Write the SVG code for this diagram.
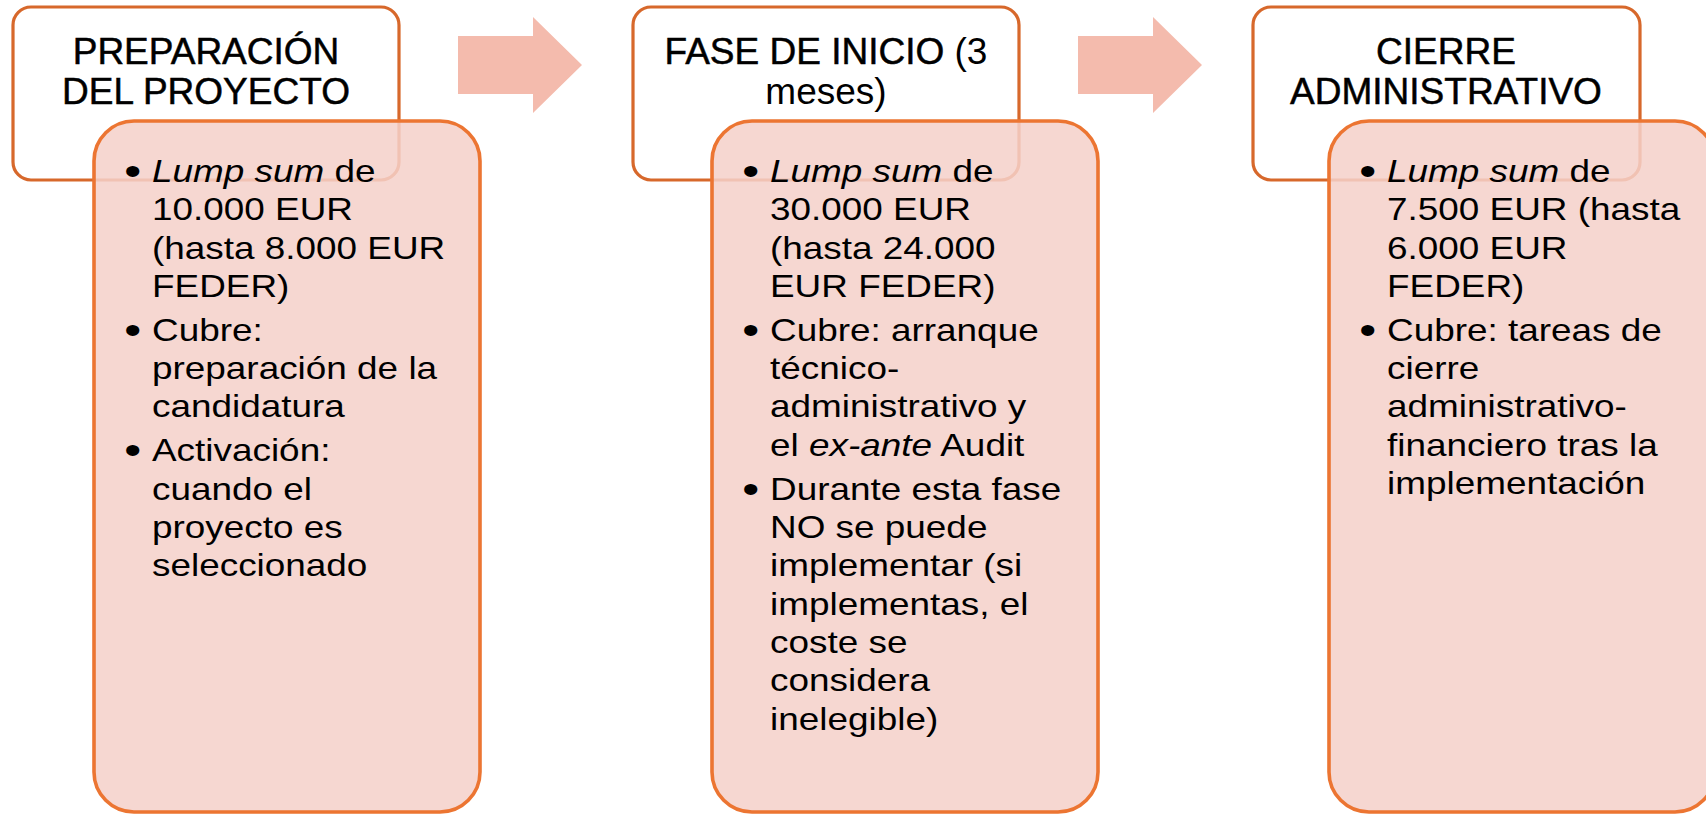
<svg xmlns="http://www.w3.org/2000/svg" width="1706" height="815" viewBox="0 0 1706 815">
<style>
.hdr{fill:#FFFFFF;stroke:#D7682B;stroke-width:3.2}
.card{fill:#F4D1C9;fill-opacity:0.86;stroke:#EC7532;stroke-width:3.6}
.arrow{fill:#F4BBAD}
.ht{font-family:"Liberation Sans",Arial,sans-serif;font-size:37px;fill:#000;text-anchor:middle}
.hb{stroke:#000;stroke-width:0.5}
.bt{font-family:"Liberation Sans",Arial,sans-serif;font-size:30.5px;fill:#000}
.bu{font-family:"Liberation Sans",Arial,sans-serif;font-size:40px;fill:#000}
.it{font-style:italic}
</style>
<rect width="1706" height="815" fill="#FFFFFF"/>
<g id="connectors">
<polygon class="arrow" points="458,36 533,36 533,17 582,65 533,113 533,94 458,94"/>
<polygon class="arrow" points="1078,36 1153,36 1153,17 1202,65 1153,113 1153,94 1078,94"/>
</g>
<g id="node-preparacion">
<rect class="hdr" x="13" y="7" width="386" height="173" rx="18"/>
<text class="ht hb"><tspan x="206" y="64">PREPARACIÓN</tspan><tspan x="206" y="103.5">DEL PROYECTO</tspan></text>
<rect class="card" x="94" y="121" width="386" height="691" rx="40"/>
<g transform="translate(152 0) scale(1.21 1)">
<text class="bu"><tspan x="-23" y="185">•</tspan><tspan x="-23" y="343.9">•</tspan><tspan x="-23" y="464.5">•</tspan></text>
<text class="bt">
<tspan x="0" y="182"><tspan class="it">Lump sum</tspan> de</tspan>
<tspan x="0" y="220.3">10.000 EUR</tspan>
<tspan x="0" y="258.6">(hasta 8.000 EUR</tspan>
<tspan x="0" y="296.9">FEDER)</tspan>
<tspan x="0" y="340.9">Cubre:</tspan>
<tspan x="0" y="379.2">preparación de la</tspan>
<tspan x="0" y="417.5">candidatura</tspan>
<tspan x="0" y="461.5">Activación:</tspan>
<tspan x="0" y="499.8">cuando el</tspan>
<tspan x="0" y="538.1">proyecto es</tspan>
<tspan x="0" y="576.4">seleccionado</tspan>
</text>
</g>
</g>
<g id="node-inicio">
<rect class="hdr" x="633" y="7" width="386" height="173" rx="18"/>
<text class="ht"><tspan x="826" y="64"><tspan class="hb">FASE DE INICIO</tspan> (3</tspan><tspan x="826" y="103.5">meses)</tspan></text>
<rect class="card" x="712" y="121" width="386" height="691" rx="40"/>
<g transform="translate(770 0) scale(1.21 1)">
<text class="bu"><tspan x="-23" y="185">•</tspan><tspan x="-23" y="343.9">•</tspan><tspan x="-23" y="502.8">•</tspan></text>
<text class="bt">
<tspan x="0" y="182"><tspan class="it">Lump sum</tspan> de</tspan>
<tspan x="0" y="220.3">30.000 EUR</tspan>
<tspan x="0" y="258.6">(hasta 24.000</tspan>
<tspan x="0" y="296.9">EUR FEDER)</tspan>
<tspan x="0" y="340.9">Cubre: arranque</tspan>
<tspan x="0" y="379.2">técnico-</tspan>
<tspan x="0" y="417.5">administrativo y</tspan>
<tspan x="0" y="455.8">el <tspan class="it">ex-ante</tspan> Audit</tspan>
<tspan x="0" y="499.8">Durante esta fase</tspan>
<tspan x="0" y="538.1">NO se puede</tspan>
<tspan x="0" y="576.4">implementar (si</tspan>
<tspan x="0" y="614.7">implementas, el</tspan>
<tspan x="0" y="653">coste se</tspan>
<tspan x="0" y="691.3">considera</tspan>
<tspan x="0" y="729.6">inelegible)</tspan>
</text>
</g>
</g>
<g id="node-cierre">
<rect class="hdr" x="1253" y="7" width="387" height="173" rx="18"/>
<text class="ht hb"><tspan x="1446" y="64">CIERRE</tspan><tspan x="1446" y="103.5">ADMINISTRATIVO</tspan></text>
<rect class="card" x="1329" y="121" width="386" height="691" rx="40"/>
<g transform="translate(1387 0) scale(1.21 1)">
<text class="bu"><tspan x="-23" y="185">•</tspan><tspan x="-23" y="343.9">•</tspan></text>
<text class="bt">
<tspan x="0" y="182"><tspan class="it">Lump sum</tspan> de</tspan>
<tspan x="0" y="220.3">7.500 EUR (hasta</tspan>
<tspan x="0" y="258.6">6.000 EUR</tspan>
<tspan x="0" y="296.9">FEDER)</tspan>
<tspan x="0" y="340.9">Cubre: tareas de</tspan>
<tspan x="0" y="379.2">cierre</tspan>
<tspan x="0" y="417.5">administrativo-</tspan>
<tspan x="0" y="455.8">financiero tras la</tspan>
<tspan x="0" y="494.1">implementación</tspan>
</text>
</g>
</g>
</svg>
